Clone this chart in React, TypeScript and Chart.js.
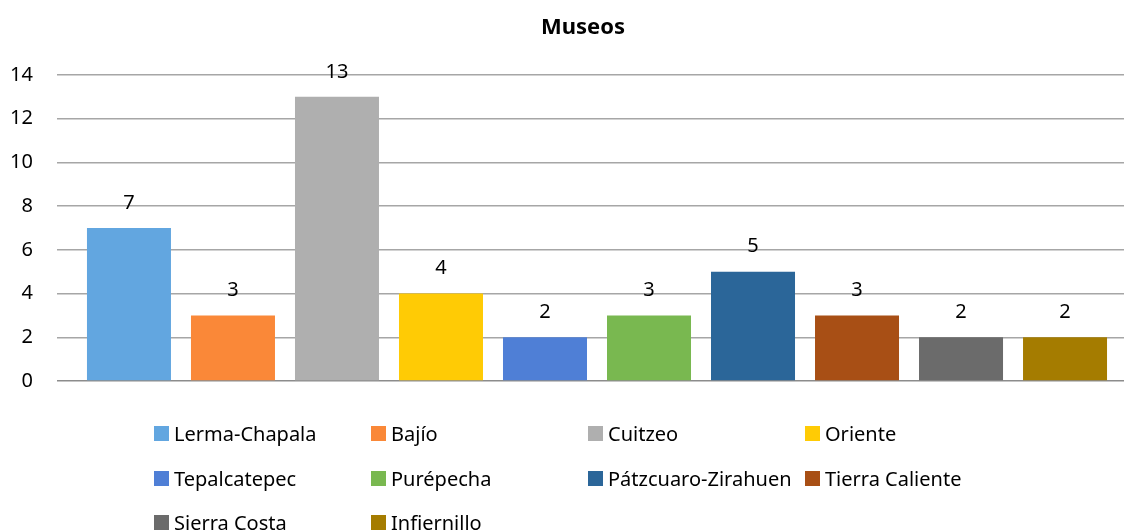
import React, { useEffect, useRef } from "react";
import { Chart, registerables } from "chart.js";

Chart.register(...registerables);

const categories = [
  "Lerma-Chapala",
  "Bajío",
  "Cuitzeo",
  "Oriente",
  "Tepalcatepec",
  "Purépecha",
  "Pátzcuaro-Zirahuen",
  "Tierra Caliente",
  "Sierra Costa",
  "Infiernillo",
];
const values = [7, 3, 13, 4, 2, 3, 5, 3, 2, 2];
const colors = [
  "#62a6e0",
  "#fa8838",
  "#afafaf",
  "#ffcb05",
  "#4f7fd6",
  "#79b850",
  "#2b6699",
  "#a84f15",
  "#6b6b6b",
  "#a57c00",
];
const yTicks = [0, 2, 4, 6, 8, 10, 12, 14];
const title = "Museos";

const FONT = "'Noto Sans', 'Open Sans', sans-serif";

const dataLabels = {
  id: "dataLabels",
  afterDatasetsDraw(chart: any) {
    const ctx = chart.ctx;
    const meta = chart.getDatasetMeta(0);
    ctx.save();
    ctx.font = `20px ${FONT}`;
    ctx.fillStyle = "#000";
    ctx.textAlign = "center";
    ctx.textBaseline = "middle";
    meta.data.forEach((el: any, i: number) => {
      ctx.fillText(String(values[i]), el.x, el.y - 25);
    });
    ctx.restore();
  },
};

export default function App() {
  const ref = useRef<HTMLCanvasElement | null>(null);

  useEffect(() => {
    if (!ref.current) return;
    const chart = new Chart(ref.current, {
      type: "bar",
      data: {
        datasets: [
          {
            label: title,
            data: values.map((v, i) => ({ x: i, y: v })),
            backgroundColor: colors,
            borderWidth: 0,
            categoryPercentage: 1,
            barPercentage: 84 / 104,
          },
        ],
      },
      options: {
        animation: false,
        responsive: false,
        layout: { padding: { left: 0, right: 0, top: 75, bottom: 150 } },
        plugins: {
          legend: { display: false },
          tooltip: { enabled: false },
          title: { display: false },
        },
        scales: {
          x: {
            type: "linear",
            display: false,
            offset: false,
            min: -0.692,
            max: 9.567,
            afterBuildTicks: (axis: any) => {
              axis.ticks = categories.map((_, i) => ({ value: i }));
            },
            grid: { display: false, offset: false },
          },
          y: {
            min: 0,
            max: 14,
            afterBuildTicks: (axis: any) => {
              axis.ticks = yTicks.map((v) => ({ value: v }));
            },
            afterFit: (axis: any) => {
              axis.width = 57;
            },
            border: { display: false },
            grid: {
              drawTicks: false,
              lineWidth: 1.5,
              color: (c: any) => (c.tick && c.tick.value === 0 ? "#8c8c8c" : "#a6a6a6"),
            },
            ticks: {
              padding: 24,
              color: "#000",
              font: { family: FONT, size: 20 },
            },
          },
        },
      },
      plugins: [dataLabels],
    } as any);
    return () => chart.destroy();
  }, []);

  return (
    <div
      style={{
        position: "fixed",
        left: 0,
        top: 0,
        width: 1124,
        height: 531,
        background: "#fff",
        overflow: "hidden",
      }}
    >
      <canvas ref={ref} width={1124} height={531} style={{ position: "absolute", left: 0, top: 0 }} />
      <div
        style={{
          position: "absolute",
          left: 483,
          width: 200,
          top: 10,
          height: 30,
          lineHeight: "30px",
          textAlign: "center",
          fontFamily: FONT,
          fontSize: 22,
          fontWeight: "bold",
          color: "#000",
        }}
      >
        {title}
      </div>
      {categories.map((c, i) => {
        const col = i % 4;
        const row = Math.floor(i / 4);
        const rowY = [433, 478, 522][row];
        return (
          <div
            key={c}
            style={{
              position: "absolute",
              left: 154 + 217 * col,
              top: rowY - 14,
              height: 28,
              display: "flex",
              alignItems: "center",
              fontFamily: FONT,
              fontSize: 20,
              color: "#000",
              whiteSpace: "nowrap",
            }}
          >
            <span
              style={{
                display: "inline-block",
                width: 15,
                height: 15,
                background: colors[i],
                marginRight: 5,
              }}
            />
            <span>{c}</span>
          </div>
        );
      })}
    </div>
  );
}
